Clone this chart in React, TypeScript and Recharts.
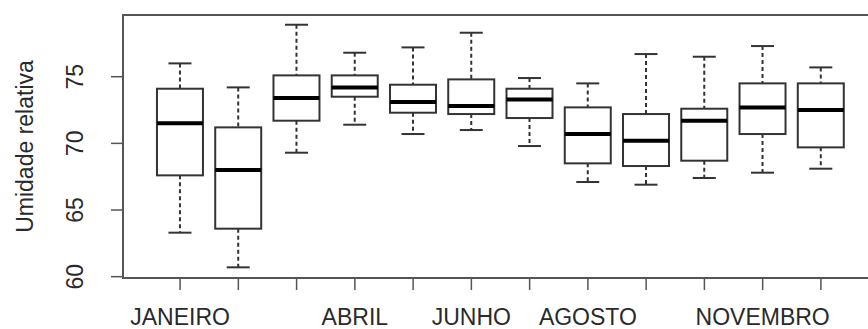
import React from 'react';
import { ComposedChart, Bar, XAxis, YAxis, ReferenceArea } from 'recharts';

const months = ['JANEIRO', 'FEVEREIRO', 'MARÇO', 'ABRIL', 'MAIO', 'JUNHO', 'JULHO', 'AGOSTO', 'SETEMBRO', 'OUTUBRO', 'NOVEMBRO', 'DEZEMBRO'];
const shownLabels = ['JANEIRO', 'ABRIL', 'JUNHO', 'AGOSTO', 'NOVEMBRO'];
const whiskerLow = [63.3, 60.7, 69.3, 71.4, 70.7, 71.0, 69.8, 67.1, 66.9, 67.4, 67.8, 68.1];
const q1 = [67.6, 63.6, 71.7, 73.5, 72.3, 72.2, 71.9, 68.5, 68.3, 68.7, 70.7, 69.7];
const median = [71.5, 68.0, 73.4, 74.2, 73.1, 72.8, 73.3, 70.7, 70.2, 71.7, 72.7, 72.5];
const q3 = [74.1, 71.2, 75.1, 75.1, 74.4, 74.8, 74.1, 72.7, 72.2, 72.6, 74.5, 74.5];
const whiskerHigh = [76.0, 74.2, 78.9, 76.8, 77.2, 78.3, 74.9, 74.5, 76.7, 76.5, 77.3, 75.7];
const yTicks = [60, 65, 70, 75];

const data = months.map((m, i) => ({
  x: i + 1,
  name: m,
  range: [whiskerLow[i], whiskerHigh[i]],
  low: whiskerLow[i],
  q1: q1[i],
  med: median[i],
  q3: q3[i],
  high: whiskerHigh[i],
}));

const FONT = '"Liberation Sans", Arial, sans-serif';
const TEXT = '#2a2a2a';

const BoxShape = (props: any) => {
  const { x, y, width, height, payload } = props;
  const top = Math.min(y, y + height);
  const h = Math.abs(height);
  const { low, high } = payload;
  const py = (v: number) => top + ((high - v) / (high - low)) * h;
  const cx = x + width / 2;
  const capHalf = width / 4;
  const yHi = py(high);
  const yLo = py(low);
  const yQ3 = py(payload.q3);
  const yQ1 = py(payload.q1);
  const yMed = py(payload.med);
  const stroke = '#333';
  return (
    <g>
      <line x1={cx} x2={cx} y1={yHi} y2={yQ3} stroke={stroke} strokeWidth={2} strokeDasharray="4 3" />
      <line x1={cx} x2={cx} y1={yQ1} y2={yLo} stroke={stroke} strokeWidth={2} strokeDasharray="4 3" />
      <line x1={cx - capHalf} x2={cx + capHalf} y1={yHi} y2={yHi} stroke={stroke} strokeWidth={2} />
      <line x1={cx - capHalf} x2={cx + capHalf} y1={yLo} y2={yLo} stroke={stroke} strokeWidth={2} />
      <rect x={x} y={yQ3} width={width} height={yQ1 - yQ3} fill="#fff" stroke={stroke} strokeWidth={2} />
      <line x1={x} x2={x + width} y1={yMed} y2={yMed} stroke="#000" strokeWidth={4} />
    </g>
  );
};

const XTick = (props: any) => {
  const { x, y, payload } = props;
  const label = months[payload.value - 1];
  if (!shownLabels.includes(label)) return null;
  return (
    <text x={x} y={y + 33} textAnchor="middle" fontFamily={FONT} fontSize={23} fill={TEXT}>
      {label}
    </text>
  );
};

const YTick = (props: any) => {
  const { y, payload } = props;
  const bx = 83;
  return (
    <text x={bx} y={y} transform={`rotate(-90, ${bx}, ${y})`} textAnchor="middle" fontFamily={FONT} fontSize={23} fill={TEXT}>
      {payload.value}
    </text>
  );
};

const YLabel = (props: any) => {
  const vb = props.viewBox || { x: 0, y: 15, width: 123, height: 263 };
  const cy = vb.y + vb.height / 2;
  const bx = 33;
  return (
    <text x={bx} y={cy} transform={`rotate(-90, ${bx}, ${cy})`} textAnchor="middle" fontFamily={FONT} fontSize={23} fill={TEXT}>
      Umidade relativa
    </text>
  );
};

export default function App() {
  return (
    <div style={{ position: 'absolute', left: 0, top: 0, width: 868, height: 329, overflow: 'hidden', background: '#fff' }}>
      <ComposedChart width={890} height={329} data={data} margin={{ top: 15, right: 12, bottom: 0, left: 0 }}>
        <XAxis
          dataKey="x"
          type="number"
          domain={[0.02, 12.98]}
          ticks={[1, 2, 3, 4, 5, 6, 7, 8, 9, 10, 11, 12]}
          allowDataOverflow
          height={51}
          axisLine={false}
          tickSize={12}
          tickLine={{ stroke: '#555', strokeWidth: 1.5 }}
          tick={<XTick />}
          interval={0}
        />
        <YAxis
          type="number"
          domain={[59.9, 79.63]}
          ticks={yTicks}
          allowDataOverflow
          width={123}
          axisLine={false}
          tickSize={12}
          tickLine={{ stroke: '#555', strokeWidth: 1.5 }}
          tick={<YTick />}
          interval={0}
          label={{ content: <YLabel /> }}
        />
        <ReferenceArea x1={0.02} x2={12.98} y1={59.9} y2={79.63} fill="none" fillOpacity={0} stroke="#555" strokeWidth={2} ifOverflow="visible" />
        <Bar dataKey="range" barSize={46} shape={<BoxShape />} isAnimationActive={false} />
      </ComposedChart>
    </div>
  );
}
